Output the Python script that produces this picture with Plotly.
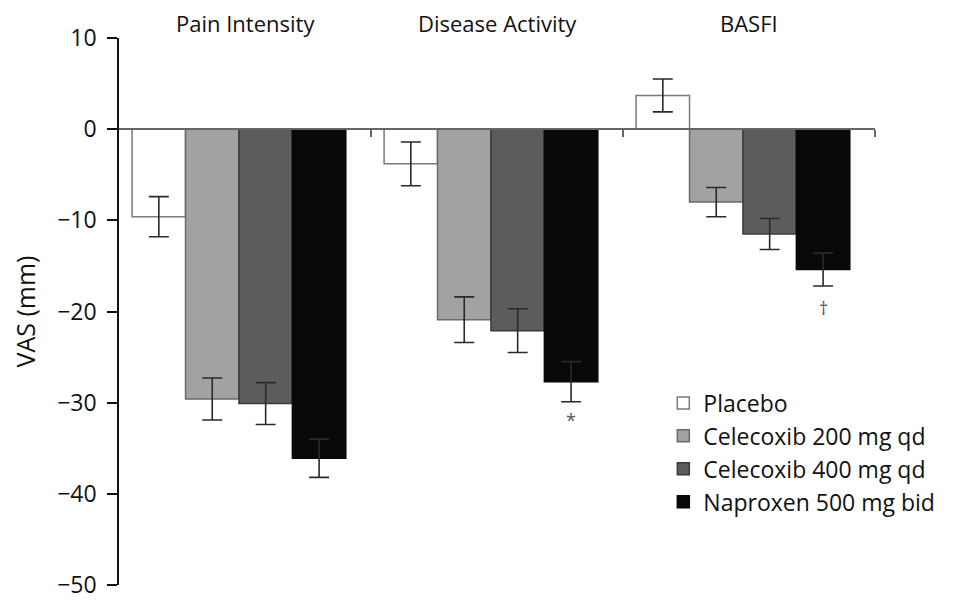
import plotly.graph_objects as go

categories = ["Pain Intensity", "Disease Activity", "BASFI"]
series_names = ["Placebo", "Celecoxib 200 mg qd", "Celecoxib 400 mg qd", "Naproxen 500 mg bid"]
placebo = [-9.6, -3.8, 3.7]
placebo_err = [2.2, 2.4, 1.8]
cel200 = [-29.6, -20.9, -8.0]
cel200_err = [2.3, 2.5, 1.6]
cel400 = [-30.1, -22.1, -11.5]
cel400_err = [2.3, 2.4, 1.7]
naproxen = [-36.1, -27.7, -15.4]
naproxen_err = [2.1, 2.2, 1.8]
naproxen_marks = ["", "*", "†"]
naproxen_mark_y = [None, -31.9, -19.6]
y_ticks = [10, 0, -10, -20, -30, -40, -50]

values = [placebo, cel200, cel400, naproxen]
errors = [placebo_err, cel200_err, cel400_err, naproxen_err]
fills = ["#ffffff", "#a2a2a2", "#5c5c5c", "#080808"]
outlines = ["#7a7a7a", "#6a6a6a", "#3a3a3a", "#080808"]

bar_w = 0.212
offsets = [-0.448, -0.236, -0.024, 0.188]
FONT = "Open Sans"

x_idx = list(range(len(categories)))
fig = go.Figure()
for name, v, e, fc, lc, off in zip(series_names, values, errors, fills, outlines, offsets):
    fig.add_trace(go.Bar(
        x=x_idx, y=v, name=name, width=bar_w, offset=off,
        marker=dict(color=fc, line=dict(color=lc, width=1.5)),
        error_y=dict(type="data", array=e, visible=True, color="#2a2a2a", thickness=1.6, width=10),
    ))

annotations = []
for i, c in enumerate(categories):
    annotations.append(dict(x=i, y=1, xref="x", yref="paper", text=c, showarrow=False,
                            yanchor="bottom", yshift=-1, borderpad=0,
                            font=dict(family=FONT, size=22, color="#111")))
for i, (m, my) in enumerate(zip(naproxen_marks, naproxen_mark_y)):
    if m:
        annotations.append(dict(x=i + offsets[3] + bar_w / 2, y=my, xref="x", yref="y", text=m,
                                showarrow=False, font=dict(family=FONT, size=18, color="#555")))

fig.update_layout(
    width=955, height=604,
    margin=dict(l=111, r=88, t=30, b=19),
    paper_bgcolor="white", plot_bgcolor="white",
    barmode="overlay",
    showlegend=True,
    legend=dict(x=0.72, y=0.372, xanchor="left", yanchor="top",
                font=dict(family=FONT, size=23, color="#111"),
                bgcolor="rgba(0,0,0,0)", tracegroupgap=0, itemwidth=30),
    annotations=annotations,
    font=dict(family=FONT, color="#111"),
)
fig.update_xaxes(range=[-0.5, 2.5], anchor="free", position=50 / 60,
                 showline=True, linecolor="#666", linewidth=1.5,
                 ticks="outside", tickvals=[0.5, 1.5, 2.5], ticklen=7, tickcolor="#666",
                 tickwidth=1.5, showticklabels=False, showgrid=False, zeroline=False)
fig.update_yaxes(range=[-50, 10], tickvals=y_ticks, showline=True, linecolor="#111", linewidth=1.5,
                 ticks="outside", ticklen=10, tickwidth=1.5, tickcolor="#111",
                 showgrid=False, zeroline=False, ticklabelstandoff=6,
                 tickfont=dict(family=FONT, size=23, color="#111"),
                 title=dict(text="VAS (mm)", font=dict(family=FONT, size=25, color="#111"), standoff=16))

fig.write_html("out.html")
